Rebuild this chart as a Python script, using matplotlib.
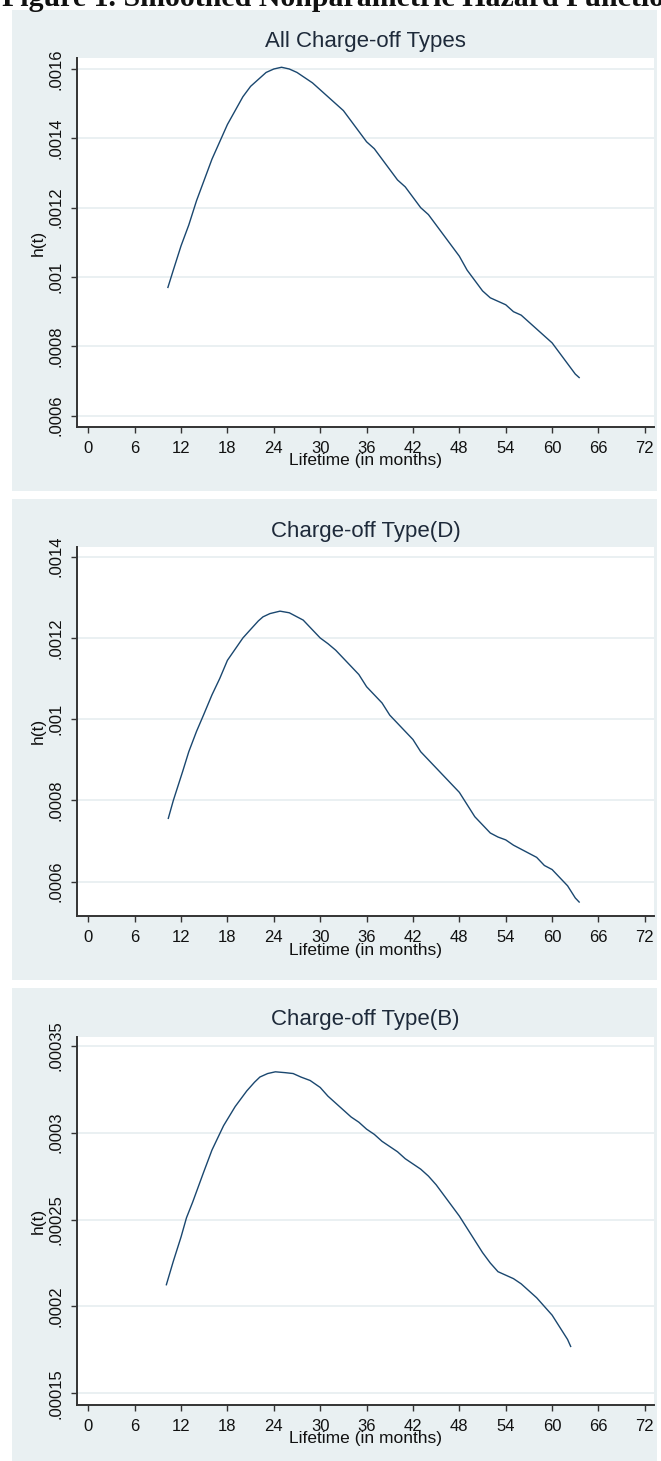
import numpy as np
import matplotlib
matplotlib.use("Agg")
import matplotlib.pyplot as plt
from matplotlib.patches import Rectangle
from matplotlib.ticker import FuncFormatter

plt.rcParams['font.family'] = ['Liberation Sans', 'DejaVu Sans']

# smoothed hazard estimates (months, h(t))
t_all = [10.3, 11, 12, 13, 14, 15, 16, 17, 18, 19, 20, 21, 22, 23, 24, 25, 26, 27, 28, 29, 30,
         31, 32, 33, 34, 35, 36, 37, 38, 39, 40, 41, 42, 43, 44, 45, 46, 47, 48, 49, 50,
         51, 52, 53, 54, 55, 56, 57, 58, 59, 60, 61, 62, 63, 63.5]
h_all = [0.00097, 0.00102, 0.00109, 0.00115, 0.00122, 0.00128, 0.00134, 0.00139, 0.00144, 0.00148,
         0.00152, 0.00155, 0.00157, 0.00159, 0.00160, 0.001605, 0.00160, 0.00159, 0.001575, 0.00156,
         0.00154, 0.00152, 0.00150, 0.00148, 0.00145, 0.00142, 0.00139, 0.00137, 0.00134, 0.00131,
         0.00128, 0.00126, 0.00123, 0.00120, 0.00118, 0.00115, 0.00112, 0.00109, 0.00106, 0.00102,
         0.00099, 0.00096, 0.00094, 0.00093, 0.00092, 0.00090, 0.00089, 0.00087, 0.00085, 0.00083,
         0.00081, 0.00078, 0.00075, 0.00072, 0.00071]

t_d = [10.35, 11, 12.2, 13, 14, 14.9, 16, 17, 18, 19.2, 20, 20.9, 22, 22.6, 23.5, 24.8, 26, 27, 27.8,
       29, 30, 31, 32, 33, 34, 35, 36, 37, 38, 39, 40, 41, 42, 43, 44, 45, 46, 47, 48, 49, 50,
       51, 52, 53, 54, 55, 56, 57, 58, 59, 60, 61, 62, 63, 63.5]
h_d = [0.000756, 0.00080, 0.000871, 0.00092, 0.00097, 0.00101, 0.00106, 0.00110, 0.001145, 0.001178,
       0.00120, 0.001219, 0.001242, 0.001252, 0.00126, 0.001266, 0.001262, 0.001252, 0.001244,
       0.00122, 0.00120, 0.001186, 0.00117, 0.00115, 0.00113, 0.00111, 0.00108, 0.00106, 0.00104,
       0.00101, 0.00099, 0.00097, 0.00095, 0.00092, 0.00090, 0.00088, 0.00086, 0.00084, 0.00082,
       0.00079, 0.00076, 0.00074, 0.00072, 0.00071, 0.000703, 0.00069, 0.00068, 0.00067, 0.00066,
       0.00064, 0.00063, 0.00061, 0.00059, 0.00056, 0.00055]

t_b = [10.1, 11, 12, 12.7, 13.5, 14.9, 16, 17.5, 19.0, 20.5, 21.5, 22.2, 23.2, 24.2, 25.5, 26.5, 27.5,
       28.7, 30, 31, 32, 33, 34, 35, 36, 37, 38, 39, 40, 41, 42, 43, 44, 45, 46, 47, 48, 49, 50,
       51, 52, 53, 54, 55, 56, 57, 58, 59, 60, 61, 62, 62.4]
h_b = [0.0002125, 0.000226, 0.00024, 0.000251, 0.00026, 0.000277, 0.00029, 0.000304, 0.000315,
       0.000324, 0.000329, 0.000332, 0.000334, 0.000335, 0.0003345, 0.000334, 0.000332, 0.00033,
       0.000326, 0.000321, 0.000317, 0.000313, 0.000309, 0.000306, 0.000302, 0.000299, 0.000295,
       0.000292, 0.000289, 0.000285, 0.000282, 0.000279, 0.000275, 0.00027, 0.000264, 0.000258,
       0.000252, 0.000245, 0.000238, 0.000231, 0.000225, 0.00022, 0.000218, 0.000216, 0.000213,
       0.000209, 0.000205, 0.0002, 0.000195, 0.000188, 0.000181, 0.000177]

titles = ["All Charge-off Types", "Charge-off Type(D)", "Charge-off Type(B)"]
yticks = [[0.0006, 0.0008, 0.001, 0.0012, 0.0014, 0.0016],
          [0.0006, 0.0008, 0.001, 0.0012, 0.0014],
          [0.00015, 0.0002, 0.00025, 0.0003, 0.00035]]
ylims = [(0.0005674, 0.0016317), (0.0005164, 0.0014239), (0.0001433, 0.0003552)]
xticks = np.arange(0, 73, 6)

W, H = 661, 1461
fig = plt.figure(figsize=(W / 100, H / 100), dpi=100)
bg = '#e9f0f2'
line_col = '#1a476f'

def fx(px):
    return px / W

def fy(py):
    return 1 - py / H

# panel regions (pixel tops/bottoms)
panels = [(10, 491), (499, 980), (988, 1470)]
plot_area = [(58, 427), (547, 915.7), (1036.7, 1405)]
left, right = 77, 654

def fmt(v, pos):
    s = f"{v:.5f}".rstrip('0').rstrip('.')
    return s[1:] if s.startswith('0') else s

series = [(t_all, h_all), (t_d, h_d), (t_b, h_b)]

for i in range(3):
    top, bot = panels[i]
    fig.patches.append(Rectangle((fx(12), fy(bot)), fx(657) - fx(12), fy(top) - fy(bot),
                                 transform=fig.transFigure, facecolor=bg, edgecolor='none', zorder=-5))
    ptop, pbot = plot_area[i]
    ax = fig.add_axes([fx(left), fy(pbot), fx(right) - fx(left), fy(ptop) - fy(pbot)])
    ax.set_zorder(2)
    ax.set_facecolor('white')
    ax.plot(series[i][0], series[i][1], color=line_col, lw=1.0)
    ax.set_xlim(-1.46, 73.18)
    ax.set_ylim(*ylims[i])
    ax.set_xticks(xticks)
    ax.set_yticks(yticks[i])
    ax.yaxis.set_major_formatter(FuncFormatter(fmt))
    ax.grid(axis='y', color='#e6eef0', lw=1.2)
    ax.set_axisbelow(True)
    for s in ['top', 'right']:
        ax.spines[s].set_visible(False)
    for s in ['left', 'bottom']:
        ax.spines[s].set_color('#333333')
        ax.spines[s].set_linewidth(1.4)
    ax.tick_params(axis='x', length=4, width=1, color='#333333', labelsize=12, pad=6, labelcolor='#111111')
    ax.tick_params(axis='y', length=4, width=1, color='#333333', labelsize=12, pad=6,
                   labelrotation=90, labelcolor='#111111')
    for lab in ax.get_yticklabels():
        lab.set_va('center')
    ax.set_ylabel('h(t)', fontsize=12.5, color='#111111')
    ax.yaxis.set_label_coords((46 - left) / (right - left), 0.5)
    fig.text(fx((left + right) / 2), fy(top + 32), titles[i], ha='center', va='center',
             fontsize=16, color='#1e2a3a', zorder=3)
    fig.text(fx((left + right) / 2), fy(top + 451), 'Lifetime (in months)', ha='center',
             va='center', fontsize=12.5, color='#111111', zorder=3)

fig.text(fx(2), fy(6), 'Figure 1. Smoothed Nonparametric Hazard Functions', ha='left', va='baseline',
         fontsize=21.5, fontweight='bold', family=['Liberation Serif', 'DejaVu Serif'], color='#111111')

fig.savefig('out.png', dpi=100, facecolor='white')
